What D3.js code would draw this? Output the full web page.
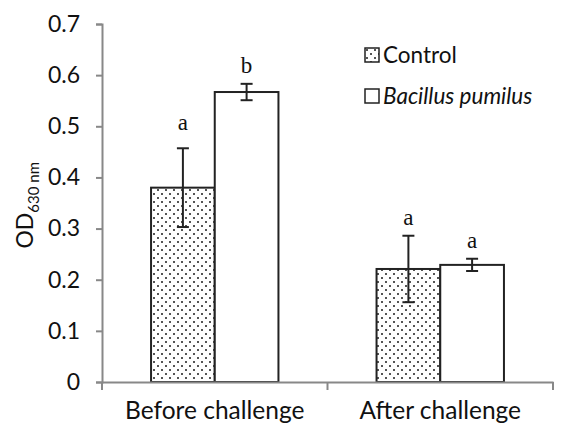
<!DOCTYPE html>
<html>
<head>
<meta charset="utf-8">
<script src="https://cdn.jsdelivr.net/npm/d3@7"></script>
<style>
  body { margin: 0; background: #fff; }
  text { font-family: Lato, "Open Sans", sans-serif; fill: #111; }
</style>
</head>
<body>
<svg id="chart"></svg>
<script>
const width = 564;
const height = 423;

// data
const categories = ["Before challenge", "After challenge"];
const seriesNames = ["Control", "Bacillus pumilus"];
const controlValues = [0.380, 0.221];
const controlErrors = [0.077, 0.065];
const bacillusValues = [0.567, 0.229];
const bacillusErrors = [0.016, 0.012];
const controlLetters = ["a", "a"];
const bacillusLetters = ["b", "a"];
const yTicks = [0, 0.1, 0.2, 0.3, 0.4, 0.5, 0.6, 0.7];

const margin = {top: 24, right: 11, bottom: 41, left: 102};

const svg = d3.select("#chart")
    .attr("width", width)
    .attr("height", height);

// dotted fill for the control bars
const defs = svg.append("defs");
const pat = defs.append("pattern")
    .attr("id", "dots")
    .attr("patternUnits", "userSpaceOnUse")
    .attr("width", 8)
    .attr("height", 8);
pat.append("rect").attr("width", 8).attr("height", 8).attr("fill", "#fff");
pat.append("rect").attr("x", 1).attr("y", 1).attr("width", 2).attr("height", 2).attr("fill", "#555");
pat.append("rect").attr("x", 5).attr("y", 5).attr("width", 2).attr("height", 2).attr("fill", "#555");

const x = d3.scaleBand()
    .domain(categories)
    .range([margin.left, width - margin.right])
    .paddingInner(0)
    .paddingOuter(0);

const x1 = d3.scaleBand()
    .domain(seriesNames)
    .range([0, x.bandwidth()])
    .paddingOuter(0.77)
    .paddingInner(0);

const y = d3.scaleLinear()
    .domain([0, 0.7])
    .range([height - margin.bottom, margin.top]);

const rows = categories.map((c, i) => [
    {cat: c, s: seriesNames[0], v: controlValues[i], e: controlErrors[i], lab: controlLetters[i]},
    {cat: c, s: seriesNames[1], v: bacillusValues[i], e: bacillusErrors[i], lab: bacillusLetters[i]}
]).flat();

// y axis
const yAxis = svg.append("g")
    .attr("transform", `translate(${margin.left},0)`)
    .call(d3.axisLeft(y).tickValues(yTicks).tickSize(6).tickPadding(16)
        .tickFormat(d => d === 0 ? "0" : d3.format(".1f")(d)));
yAxis.select(".domain").attr("stroke", "#888").attr("stroke-width", 2);
yAxis.selectAll(".tick line").attr("stroke", "#888").attr("stroke-width", 2);
yAxis.selectAll(".tick text").style("font-size", "23px").attr("fill", "#111");

// bars
const bars = svg.append("g");
bars.selectAll("rect")
    .data(rows)
    .enter().append("rect")
    .attr("x", d => x(d.cat) + x1(d.s))
    .attr("y", d => y(d.v))
    .attr("width", x1.bandwidth())
    .attr("height", d => y(0) - y(d.v))
    .attr("fill", d => d.s === "Control" ? "url(#dots)" : "#fff")
    .attr("stroke", "#222")
    .attr("stroke-width", 2);

// error bars
const err = svg.append("g").attr("stroke", "#222").attr("stroke-width", 2);
rows.forEach(d => {
    const cx = x(d.cat) + x1(d.s) + x1.bandwidth() / 2;
    err.append("line").attr("x1", cx).attr("x2", cx).attr("y1", y(d.v - d.e)).attr("y2", y(d.v + d.e));
    err.append("line").attr("x1", cx - 6).attr("x2", cx + 6).attr("y1", y(d.v + d.e)).attr("y2", y(d.v + d.e));
    err.append("line").attr("x1", cx - 6).attr("x2", cx + 6).attr("y1", y(d.v - d.e)).attr("y2", y(d.v - d.e));
});

// significance letters
svg.append("g").selectAll("text")
    .data(rows)
    .enter().append("text")
    .attr("x", d => x(d.cat) + x1(d.s) + x1.bandwidth() / 2)
    .attr("y", (d, i) => y(d.v + d.e) - (i === 0 ? 18 : 11))
    .attr("text-anchor", "middle")
    .style("font-family", "'Liberation Serif', 'DejaVu Serif', serif")
    .style("font-size", "23px")
    .text(d => d.lab);

// x axis
const xAxis = svg.append("g")
    .attr("transform", `translate(0,${y(0)})`)
    .call(d3.axisBottom(x).tickSize(0).tickPadding(20));
xAxis.select(".domain").attr("stroke", "#888").attr("stroke-width", 2);
xAxis.selectAll(".tick text").style("font-size", "24.5px").attr("fill", "#111");
const bounds = [margin.left, x(categories[1]), width - margin.right];
xAxis.selectAll(".sep")
    .data(bounds)
    .enter().append("line")
    .attr("x1", d => d).attr("x2", d => d)
    .attr("y1", 0).attr("y2", 8)
    .attr("stroke", "#888").attr("stroke-width", 2);

// y title
const yTitle = svg.append("text")
    .attr("transform", `translate(33,${y(0.3) + 20}) rotate(-90)`)
    .attr("text-anchor", "start")
    .style("font-size", "23px");
yTitle.append("tspan").text("OD");
yTitle.append("tspan").attr("dy", 6).style("font-size", "15px").text("630 nm");

// legend
const legend = svg.append("g").attr("transform", "translate(365,48)");
seriesNames.forEach((s, i) => {
    const g = legend.append("g").attr("transform", `translate(0,${i * 41})`);
    g.append("rect").attr("width", 14).attr("height", 14)
        .attr("fill", i === 0 ? "url(#dots)" : "#fff")
        .attr("stroke", "#222").attr("stroke-width", 1.5);
    g.append("text").attr("x", 18).attr("y", 15)
        .style("font-size", "22.5px")
        .style("font-style", i === 1 ? "italic" : "normal")
        .text(s);
});
</script>
</body>
</html>
